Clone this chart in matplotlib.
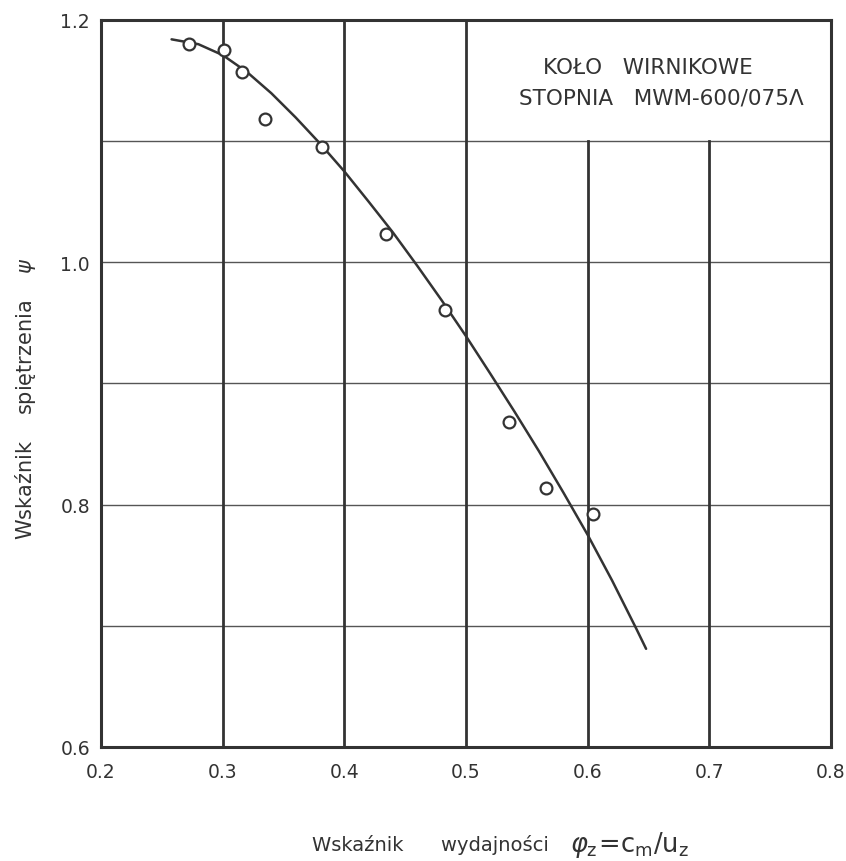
import matplotlib
matplotlib.use("Agg")
import matplotlib.pyplot as plt

# measured points (flow coefficient vs pressure coefficient)
phi_pts = [0.272, 0.301, 0.316, 0.335, 0.382, 0.434, 0.483, 0.535, 0.566, 0.604]
psi_pts = [1.180, 1.175, 1.157, 1.118, 1.095, 1.023, 0.961, 0.868, 0.814, 0.792]

# hand-drawn curve
curve_phi = [0.258, 0.28, 0.30, 0.32, 0.34, 0.36, 0.38, 0.40, 0.42, 0.44, 0.46,
             0.48, 0.50, 0.52, 0.54, 0.56, 0.58, 0.60, 0.62, 0.64, 0.648]
curve_psi = [1.184, 1.180, 1.171, 1.157, 1.1395, 1.1195, 1.098, 1.075, 1.050,
             1.0245, 0.997, 0.9686, 0.939, 0.908, 0.8765, 0.844, 0.810, 0.775,
             0.7375, 0.6975, 0.681]

x_ticks = [0.2, 0.3, 0.4, 0.5, 0.6, 0.7, 0.8]
x_ticklabels = ["0.2", "0.3", "0.4", "0.5", "0.6", "0.7", "0.8"]
y_ticks = [0.6, 0.8, 1.0, 1.2]
y_ticklabels = ["0.6", "0.8", "1.0", "1.2"]
y_grid = [0.7, 0.8, 0.9, 1.0, 1.1]
x_grid_full = [0.3, 0.4, 0.5]
x_grid_short = [0.6, 0.7]

title_lines = ["KOŁO   WIRNIKOWE", "STOPNIA   MWM-600/075Λ"]
ylabel = "Wskaźnik    spiętrzenia    $\\psi$"
xlabel_words = "Wskaźnik      wydajności"
xlabel_formula = "$\\varphi_{\\mathrm{z}}\\!=\\!\\mathrm{c}_{\\mathrm{m}}/\\mathrm{u}_{\\mathrm{z}}$"

ink = "#333333"
plt.rcParams['font.family'] = ['DejaVu Sans']

fig = plt.figure(figsize=(8.46, 8.62), dpi=100)
ax = fig.add_axes([0.1194, 0.1323, 0.8629, 0.8434])
ax.set_xlim(0.2, 0.8)
ax.set_ylim(0.6, 1.2)

for y in y_grid:
    ax.axhline(y, color="#555555", lw=1.0, zorder=1)
for x in x_grid_full:
    ax.axvline(x, color=ink, lw=2.0, zorder=1)
for x in x_grid_short:
    ax.axvline(x, ymin=0.0, ymax=(1.1 - 0.6) / 0.6, color=ink, lw=2.0, zorder=1)

ax.plot(curve_phi, curve_psi, color=ink, lw=1.8, solid_capstyle='round',
        solid_joinstyle='round', zorder=3)
ax.plot(phi_pts, psi_pts, linestyle='none', marker='o', ms=8.5, mfc='white',
        mec=ink, mew=1.6, zorder=4)

ax.set_xticks(x_ticks)
ax.set_xticklabels(x_ticklabels)
ax.set_yticks(y_ticks)
ax.set_yticklabels(y_ticklabels)
ax.tick_params(length=0, labelsize=13.5, colors=ink, pad=11)
ax.tick_params(axis='y', pad=8)
for s in ax.spines.values():
    s.set_linewidth(2.2)
    s.set_color(ink)

ax.text(0.749, 0.935, title_lines[0], transform=ax.transAxes, ha='center',
        va='center', fontsize=15.5, color=ink)
ax.text(0.768, 0.894, title_lines[1], transform=ax.transAxes, ha='center',
        va='center', fontsize=15.5, color=ink)

fig.text(0.0296, 0.538, ylabel, rotation=90, ha='center', va='center',
         fontsize=15, color=ink)
fig.text(0.369, 0.0197, xlabel_words, ha='left', va='center', fontsize=14,
         color=ink)
fig.text(0.674, 0.0197, xlabel_formula, ha='left', va='center', fontsize=18.5,
         color=ink)

fig.savefig("out.png", dpi=100, facecolor='white')
